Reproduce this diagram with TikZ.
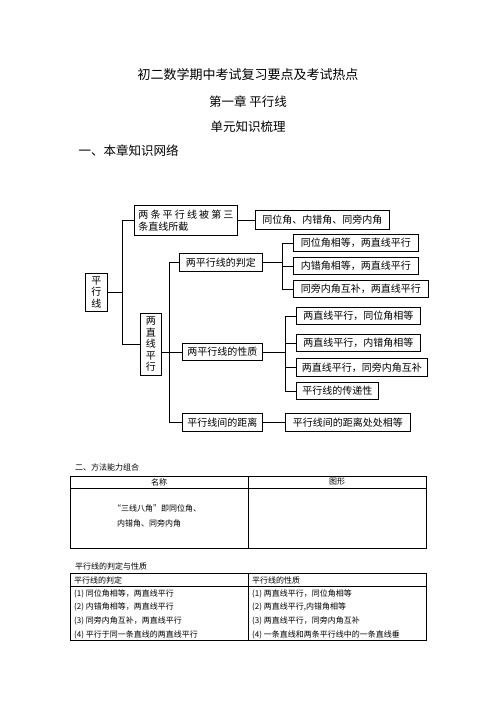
\documentclass[tikz,border=0pt]{standalone}
\usepackage{fontspec}
\newfontfamily\cjk{Noto Sans CJK SC}
\usetikzlibrary{positioning}

\begin{document}
\begin{tikzpicture}[
        x=1pt, y=-1pt,
        heading/.style={font=\cjk\fontsize{12.5}{14}\selectfont},
        concept/.style={
          draw,
          line width=0.9pt,
          anchor=north west,
          inner sep=0pt,
          align=center,
          font=\cjk\fontsize{10}{11.5}\selectfont
        },
        link/.style={line width=0.7pt},
        grid/.style={line width=0.9pt},
        cell/.style={inner sep=0pt, font=\cjk\fontsize{8}{10}\selectfont}
      ]
      \useasboundingbox (0,0) rectangle (496,702);

      % Headings
      \node[heading, font=\cjk\fontsize{13}{15}\selectfont] (title) at (248,75) {初二数学期中考试复习要点及考试热点};
      \node[heading] (chapter) at (248,102) {第一章\ 平行线};
      \node[heading] (unit) at (248,127) {单元知识梳理};
      \node[heading, anchor=west] (network) at (75,151) {一、本章知识网络};

      % Knowledge network
      \node[concept, minimum width=22pt, minimum height=38pt] (root) at (85,273) {平\\行\\线};
      \node[concept, minimum width=103pt, minimum height=30pt, align=left] (cut) at (134,205)
        {\makebox[95pt][s]{两\hfill 条\hfill 平\hfill 行\hfill 线\hfill 被\hfill 第\hfill 三}\\条直线所截};
      \node[concept, minimum width=134pt, minimum height=19pt] (angles) at (255,210) {同位角、内错角、同旁内角};
      \node[concept, minimum width=21pt, minimum height=62pt] (parallel) at (140,313) {两\\直\\线\\平\\行};

      \node[concept, minimum width=83pt, minimum height=18pt] (judge) at (179,253) {两平行线的判定};
      \node[concept, minimum width=125pt, minimum height=17pt] (judgeA) at (293,234) {同位角相等，两直线平行};
      \node[concept, minimum width=125pt, minimum height=17pt] (judgeB) at (293,257) {内错角相等，两直线平行};
      \node[concept, minimum width=135pt, minimum height=17pt] (judgeC) at (293,280) {同旁内角互补，两直线平行};

      \node[concept, minimum width=80pt, minimum height=17pt] (prop) at (182,343) {两平行线的性质};
      \node[concept, minimum width=124pt, minimum height=17pt] (propA) at (296,307) {两直线平行，同位角相等};
      \node[concept, minimum width=124pt, minimum height=17pt] (propB) at (296,334) {两直线平行，内错角相等};
      \node[concept, minimum width=131pt, minimum height=18pt] (propC) at (296,358) {两直线平行，同旁内角互补};
      \node[concept, minimum width=82pt, minimum height=17pt] (propD) at (296,382) {平行线的传递性};

      \node[concept, minimum width=80pt, minimum height=18pt] (dist) at (182,413) {平行线间的距离};
      \node[concept, minimum width=125pt, minimum height=18pt] (distA) at (285,413) {平行线间的距离处处相等};

      % Connections
      \draw[link] (cut.west) -- ++(-12,0) coordinate (spine) |- (parallel.west);
      \draw[link] (root.east) -- (root.east -| spine);
      \draw[link] (cut.east) -- (angles.west |- cut.east);

      \draw[link] (judge.west) -- ++(-10,0) |- (dist.west);
      \draw[link] (parallel.east |- prop.west) -- (prop.west);

      \draw[link] (judgeA.west) -- ++(-11,0) |- (judgeC.west);
      \draw[link] (judgeB.west) -- ++(-11,0);
      \draw[link] (judge.east) -- ++(20,0);

      \draw[link] (propA.west) -- ++(-11,0) |- (propD.west);
      \draw[link] (propB.west) -- ++(-11,0);
      \draw[link] (propC.west) -- ++(-11,0);
      \draw[link] (prop.east) -- ++(23,0);

      \draw[link] (dist.east) -- (distA.west |- dist.east);

      % Method table
      \node[cell, anchor=west] (method) at (75,467) {二、方法能力组合};
      \draw[grid] (70,476) rectangle (426,548);
      \draw[grid] (70,488) -- (426,488);
      \draw[grid] (248,476) -- (248,548);
      \node[cell] (nameHead) at (159,482) {名称};
      \node[cell] (figureHead) at (337,482) {图形};
      \node[cell, anchor=west] (eightA) at (113,508) {“三线八角”即同位角、};
      \node[cell, anchor=west] (eightB) at (117,523) {内错角、同旁内角};

      % Judgement and properties table
      \node[cell, anchor=west] (summary) at (75,566) {平行线的判定与性质};
      \draw[grid] (70,573) rectangle (426,640);
      \draw[grid] (70,586) -- (426,586);
      \draw[grid] (248,573) -- (248,640);
      \node[cell, anchor=west] (judgeHead) at (74,580) {平行线的判定};
      \node[cell, anchor=west] (propHead) at (252,580) {平行线的性质};
      \foreach \txt [count=\i] in {{(1) 同位角相等，两直线平行}, {(2) 内错角相等，两直线平行},
          {(3) 同旁内角互补，两直线平行}, {(4) 平行于同一条直线的两直线平行}}
        \node[cell, anchor=west] (judgeRow\i) at (74,580+13.6*\i) {\txt};
      \foreach \txt [count=\i] in {{(1) 两直线平行，同位角相等}, {(2) 两直线平行,内错角相等},
          {(3) 两直线平行，同旁内角互补}, {(4) 一条直线和两条平行线中的一条直线垂}}
        \node[cell, anchor=west] (propRow\i) at (252,580+13.6*\i) {\txt};

    \end{tikzpicture}
\end{document}
